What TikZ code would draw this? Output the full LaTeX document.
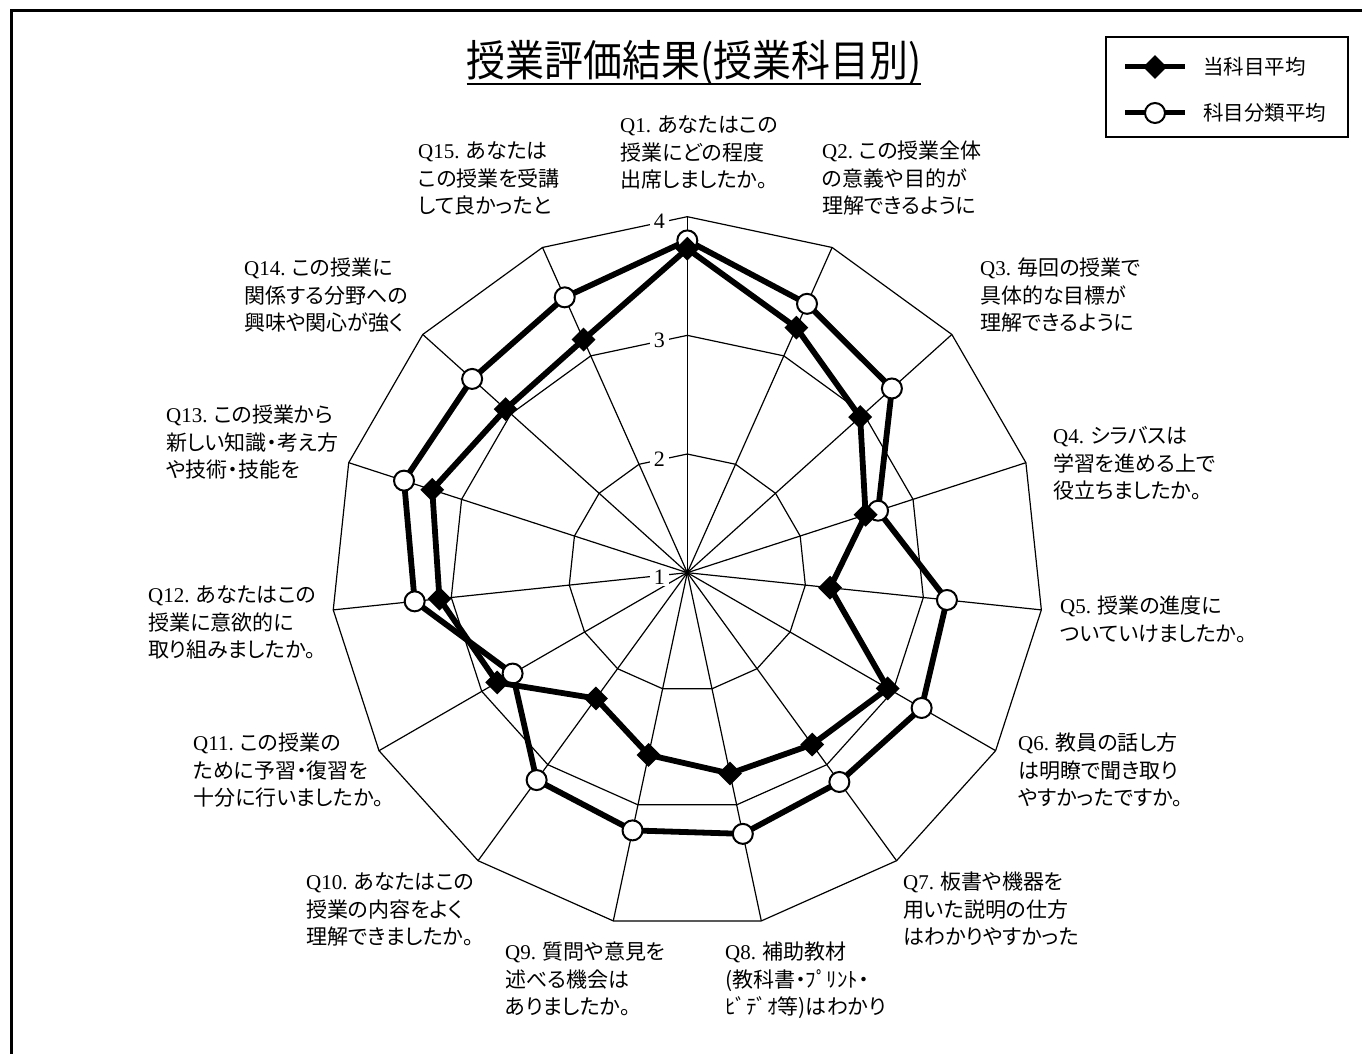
\documentclass[tikz,border=0pt]{standalone}
\usepackage{graphicx}
\usepackage{fontspec}
\setmainfont{Liberation Serif}
\newfontfamily\jp[RawFeature=+palt]{Noto Sans CJK JP}
\newfontfamily\jpw{Noto Sans CJK JP}
\newfontfamily\qf{Liberation Serif}
\usetikzlibrary{shapes.geometric}
\tikzset{
  gridline/.style={line width=1.2pt, black},
  dataline/.style={line width=5.8pt, line join=round, black},
  diam/.style={diamond, fill=black, inner sep=0pt, minimum width=24pt, minimum height=24pt},
  circ/.style={circle, draw=black, fill=white, line width=2pt, inner sep=0pt, minimum size=20pt},
  qtext/.style={anchor=base west, inner sep=0pt, font=\jp\fontsize{21}{27.5}\selectfont},
  lvl/.style={fill=white, inner xsep=4pt, inner ysep=1pt, font=\qf\fontsize{22}{22}\selectfont},
  legtext/.style={anchor=west, inner sep=0pt, font=\jpw\fontsize{20.5}{20.5}\selectfont},
  legline/.style={line width=5pt, black},
  frame/.style={line width=3pt, black},
}
\newcommand\qlab[4]{%
  \foreach \qline [count=\k] in {#4} {%
    \node[qtext] (#1-\k) at (#2,{1054-#3-7.9-(\k-1)*27.5}) {\qline};}}
\begin{document}
\begin{tikzpicture}[x=1pt,y=1pt]
\useasboundingbox (0,0) rectangle (1362,1054);
\fill[white] (0,0) rectangle (1362,1054);
\draw[frame] (11,0) -- (11,1043) -- (1362,1043);

% title
\node[inner sep=0pt, font=\jp\fontsize{43}{43}\selectfont] (title) at (694,991) {\scalebox{0.905}[1]{授業評価結果(授業科目別)}};
\coordinate (ul) at (0,970);
\draw[line width=2pt] (title.west |- ul) -- (title.east |- ul);

% legend
\draw[line width=2pt] (1106,917) rectangle (1348,1017);
\coordinate (lg1a) at (1125,987);
\coordinate (lg1b) at (1185,987);
\coordinate (lg2a) at (1125,941);
\coordinate (lg2b) at (1185,941);
\draw[legline] (lg1a) -- (lg1b);
\node[diam] (lgd) at (1155,987) {};
\draw[legline] (lg2a) -- (lg2b);
\node[circ] (lgc) at (1155,941) {};
\node[legtext] (lgt1) at (1203,987) {当科目平均};
\node[legtext] (lgt2) at (1203,941) {科目分類平均};

% radar chart
\begin{scope}[shift={(687.3,481.3)}]
  \coordinate (O) at (0,0);
  \foreach \i in {1,...,15} {
    \coordinate (s\i) at ({90-(\i-1)*24}:356);
    \draw[gridline] (O) -- (s\i);
  }
  \foreach \r in {118.67,237.33,356} {
    \draw[gridline] (90:\r) \foreach \i in {2,...,15}{ -- ({90-(\i-1)*24}:\r) } -- cycle;
  }
  \foreach \k/\r in {1/0,2/118.67,3/237.33,4/356}
    \node[lvl] (lv\k) at (-28,{\r-5}) {\k};

  \foreach \v [count=\i] in {3.73,3.26,2.96,2.58,2.21,2.95,2.79,2.73,2.57,2.31,2.85,3.10,3.26,3.06,3.15}
    \coordinate (a\i) at ({90-(\i-1)*24}:{(\v-1)*118.67});
  \foreach \v [count=\i] in {3.80,3.48,3.32,2.69,3.20,3.28,3.18,3.25,3.22,3.16,2.70,3.31,3.51,3.44,3.54}
    \coordinate (b\i) at ({90-(\i-1)*24}:{(\v-1)*118.67});

  \draw[dataline] (b1) \foreach \i in {2,...,15}{ -- (b\i) } -- cycle;
  \foreach \i in {1,...,15} \node[circ] (cb\i) at (b\i) {};
  \draw[dataline] (a1) \foreach \i in {2,...,15}{ -- (a\i) } -- cycle;
  \foreach \i in {1,...,15} \node[diam] (da\i) at (a\i) {};
\end{scope}

% question labels
\qlab{q1}{620}{125}{{{\qf Q1.} あなたはこの},授業にどの程度,出席しましたか。}
\qlab{q2}{822}{151}{{{\qf Q2.} この授業全体},の意義や目的が,理解できるように}
\qlab{q3}{980}{268}{{{\qf Q3.} 毎回の授業で},具体的な目標が,理解できるように}
\qlab{q4}{1053}{436}{{{\qf Q4.} シラバスは},学習を進める上で,役立ちましたか。}
\qlab{q5}{1060}{606}{{{\qf Q5.} 授業の進度に},ついていけましたか。}
\qlab{q6}{1018}{743}{{{\qf Q6.} 教員の話し方},は明瞭で聞き取り,やすかったですか。}
\qlab{q7}{903}{882}{{{\qf Q7.} 板書や機器を},用いた説明の仕方,はわかりやすかった}
\qlab{q8}{725}{952}{{{\qf Q8.} 補助教材},{(教科書・ﾌﾟﾘﾝﾄ・},{ﾋﾞﾃﾞｵ等)はわかり}}
\qlab{q9}{505}{952}{{{\qf Q9.} 質問や意見を},述べる機会は,ありましたか。}
\qlab{q10}{306}{882}{{{\qf Q10.} あなたはこの},授業の内容をよく,理解できましたか。}
\qlab{q11}{193}{743}{{{\qf Q11.} この授業の},ために予習・復習を,十分に行いましたか。}
\qlab{q12}{148}{595}{{{\qf Q12.} あなたはこの},授業に意欲的に,取り組みましたか。}
\qlab{q13}{166}{415}{{{\qf Q13.} この授業から},新しい知識・考え方,や技術・技能を}
\qlab{q14}{244}{268}{{{\qf Q14.} この授業に},関係する分野への,興味や関心が強く}
\qlab{q15}{418}{151}{{{\qf Q15.} あなたは},この授業を受講,して良かったと}
\end{tikzpicture}
\end{document}
